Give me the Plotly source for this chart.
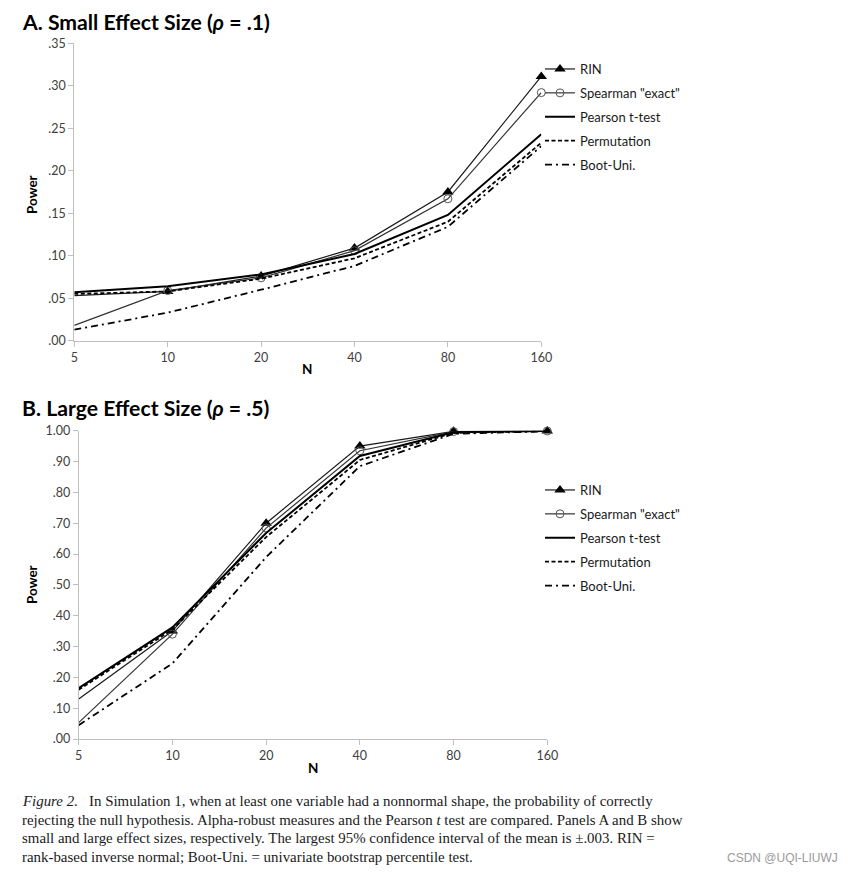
import numpy as np
import plotly.graph_objects as go

# page is 854x876; the html body adds an 8px margin on every side
OFF = 8
W, H = 854 - 2 * OFF, 876 - 2 * OFF

N = [5, 10, 20, 40, 80, 160]
N_LABELS = ["5", "10", "20", "40", "80", "160"]
SERIES = ["RIN", 'Spearman "exact"', "Pearson t-test", "Permutation", "Boot-Uni."]

# Panel A: small effect size (rho = .1)
A_RIN = [0.053, 0.058, 0.076, 0.109, 0.175, 0.311]
A_SPEARMAN = [0.018, 0.059, 0.074, 0.106, 0.167, 0.292]
A_PEARSON = [0.057, 0.064, 0.078, 0.102, 0.148, 0.243]
A_PERM = [0.055, 0.058, 0.073, 0.097, 0.140, 0.233]
A_BOOT = [0.013, 0.033, 0.060, 0.088, 0.134, 0.229]

# Panel B: large effect size (rho = .5)
B_RIN = [0.13, 0.35, 0.70, 0.95, 0.998, 0.999]
B_SPEARMAN = [0.053, 0.34, 0.684, 0.935, 0.997, 0.999]
B_PEARSON = [0.165, 0.362, 0.668, 0.918, 0.995, 0.999]
B_PERM = [0.16, 0.355, 0.655, 0.905, 0.993, 0.999]
B_BOOT = [0.045, 0.245, 0.59, 0.885, 0.99, 0.998]

A_YTICKS = [0, 0.05, 0.10, 0.15, 0.20, 0.25, 0.30, 0.35]
A_YLABELS = [".00", ".05", ".10", ".15", ".20", ".25", ".30", ".35"]
B_YTICKS = [0, 0.1, 0.2, 0.3, 0.4, 0.5, 0.6, 0.7, 0.8, 0.9, 1.0]
B_YLABELS = [".00", ".10", ".20", ".30", ".40", ".50", ".60", ".70", ".80", ".90", "1.00"]

STYLES = [
    dict(mode="lines+markers", line=dict(color="#1a1a1a", width=1.2),
         marker=dict(symbol="triangle-up", size=10, color="#000000")),
    dict(mode="lines+markers", line=dict(color="#333333", width=1.2),
         marker=dict(symbol="circle-open", size=8, color="#555555", line=dict(width=1))),
    dict(mode="lines", line=dict(color="#000000", width=2.0)),
    dict(mode="lines", line=dict(color="#000000", width=1.8, dash="4px,2.5px")),
    dict(mode="lines", line=dict(color="#000000", width=1.8, dash="7px,4px,2px,4px")),
]

fig = go.Figure()

panels = [
    ("x", "y", "legend", [A_RIN, A_SPEARMAN, A_PEARSON, A_PERM, A_BOOT]),
    ("x2", "y2", "legend2", [B_RIN, B_SPEARMAN, B_PEARSON, B_PERM, B_BOOT]),
]
for xa, ya, lg, data in panels:
    for i, (name, vals) in enumerate(zip(SERIES, data)):
        fig.add_trace(go.Scatter(
            x=N, y=vals, name=name, xaxis=xa, yaxis=ya, legend=lg,
            legendgroup=f"{lg}_{i}", cliponaxis=False, **STYLES[i]))

def px_x(v):
    return (v - OFF) / W

def px_y(v):
    return 1 - (v - OFF) / H

axis_common = dict(showgrid=False, zeroline=False, showline=True, linecolor="#bfbfbf",
                   linewidth=1, ticks="outside", ticklen=5, tickcolor="#bfbfbf",
                   automargin=False,
                   tickfont=dict(family="Lato", size=12.5, color="#404040"))

xr = [np.log10(5), np.log10(160)]
fig.update_layout(
    width=W, height=H, margin=dict(l=0, r=0, t=0, b=0, autoexpand=False),
    paper_bgcolor="white", plot_bgcolor="white",
    xaxis=dict(domain=[px_x(74.3), px_x(541.3)], type="log", range=xr, anchor="y",
               tickvals=N, ticktext=N_LABELS, **axis_common),
    yaxis=dict(domain=[px_y(340.7), px_y(43.3)], range=[0, 0.35], anchor="x",
               tickvals=A_YTICKS, ticktext=A_YLABELS, **axis_common),
    xaxis2=dict(domain=[px_x(78.7), px_x(547.3)], type="log", range=xr, anchor="y2",
                tickvals=N, ticktext=N_LABELS, **axis_common),
    yaxis2=dict(domain=[px_y(739), px_y(430.7)], range=[0, 1.0], anchor="x2",
                tickvals=B_YTICKS, ticktext=B_YLABELS, **axis_common),
    legend=dict(x=px_x(540), y=px_y(54), xanchor="left", yanchor="top",
                font=dict(family="Lato", size=13, color="#1a1a1a"),
                tracegroupgap=4, itemwidth=30, bgcolor="rgba(0,0,0,0)"),
    legend2=dict(x=px_x(540), y=px_y(475), xanchor="left", yanchor="top",
                 font=dict(family="Lato", size=13, color="#1a1a1a"),
                 tracegroupgap=4, itemwidth=30, bgcolor="rgba(0,0,0,0)"),
)

ann = []
def add_text(x, y, text, size, family="Lato", bold=False, color="#000000",
             xanchor="left", yanchor="middle", angle=0):
    ann.append(dict(x=px_x(x), y=px_y(y), xref="paper", yref="paper", text=text,
                    showarrow=False, xanchor=xanchor, yanchor=yanchor, textangle=angle,
                    font=dict(family=family, size=size, color=color,
                              weight="bold" if bold else "normal")))

add_text(20, 22, "A. Small Effect Size (<i>ρ</i> = .1)", 21.2, bold=True)
add_text(20, 408, "B. Large Effect Size (<i>ρ</i> = .5)", 21.2, bold=True)
add_text(32, 195, "Power", 13.5, bold=True, xanchor="center", angle=-90)
add_text(32, 585, "Power", 13.5, bold=True, xanchor="center", angle=-90)
add_text(307, 369, "N", 13.5, bold=True, xanchor="center")
add_text(313, 768, "N", 13.5, bold=True, xanchor="center")

CAPTION = [
    "<i>Figure 2.</i>   In Simulation 1, when at least one variable had a nonnormal shape, the probability of correctly",
    "rejecting the null hypothesis. Alpha-robust measures and the Pearson <i>t</i> test are compared. Panels A and B show",
    "small and large effect sizes, respectively. The largest 95% confidence interval of the mean is ±.003. RIN =",
    "rank-based inverse normal; Boot-Uni. = univariate bootstrap percentile test.",
]
for i, line in enumerate(CAPTION):
    add_text(20, 801 + i * 18.6, line, 14.9, family="Liberation Serif", color="#1a1a1a")

add_text(840, 858, "CSDN @UQI-LIUWJ", 12, family="Liberation Sans", color="#9a9a9a",
         xanchor="right")

fig.update_layout(annotations=ann)
fig.write_html("out.html")
